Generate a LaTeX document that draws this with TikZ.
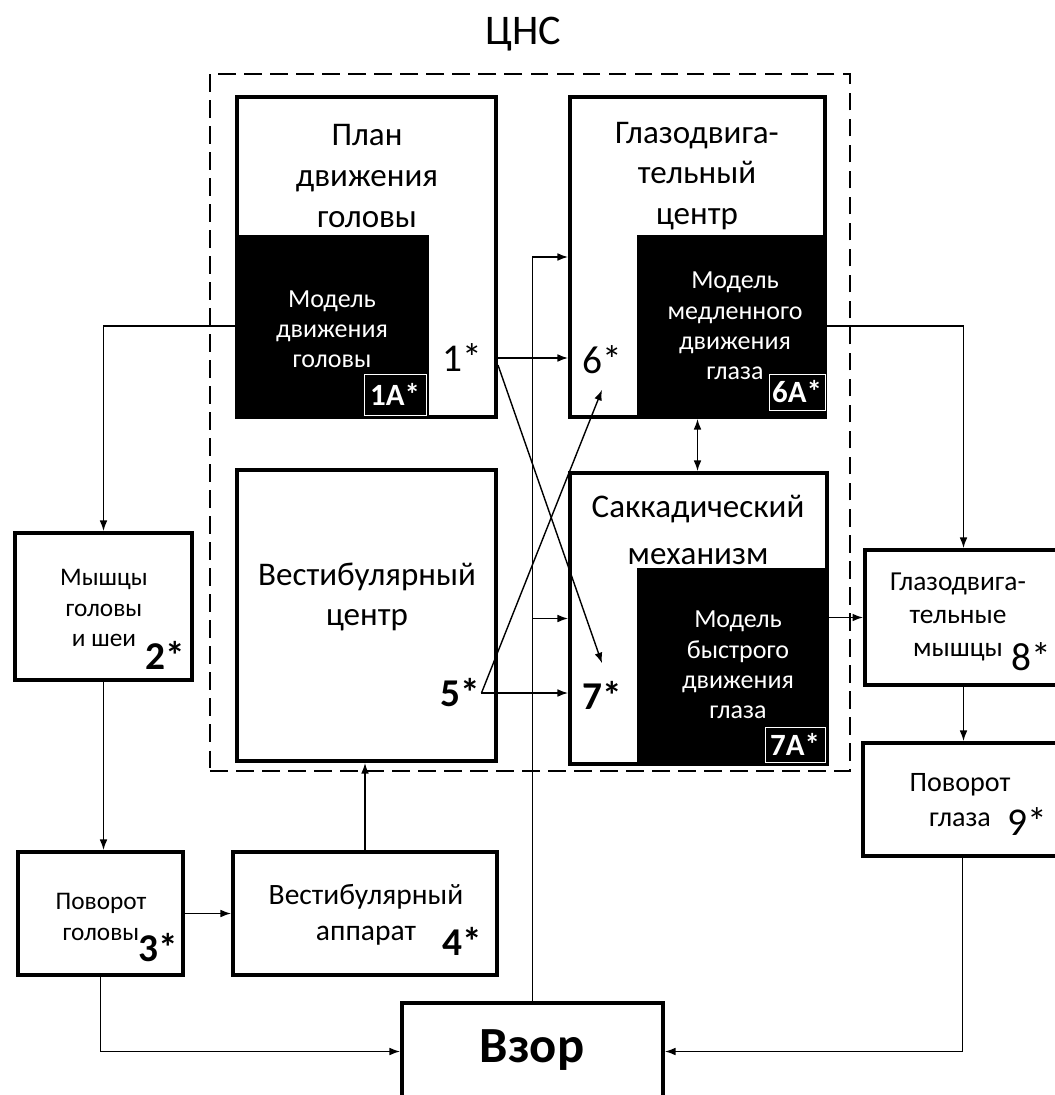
\documentclass[tikz,border=0pt]{standalone}
\usepackage{fontspec}
\setmainfont{Carlito}
\usetikzlibrary{arrows.meta,fit,calc}

\begin{document}
\begin{tikzpicture}[
      x=0.025cm, y=-0.025cm,
      >={Latex[length=7.5pt,width=5.5pt]},
      box/.style={draw, line width=2.8pt, inner sep=0pt},
      blk/.style={fill=black, inner sep=0pt},
      tag/.style={draw=white, line width=0.7pt, fill=black, inner sep=0pt},
      ttl/.style={align=center, inner sep=0pt, font=\fontsize{23.5}{29}\selectfont},
      wtxt/.style={align=center, inner sep=0pt, text=white, font=\fontsize{18.5}{21.5}\selectfont},
      ttxt/.style={inner sep=0pt, text=white, font=\bfseries\fontsize{22}{22}\selectfont},
      txt/.style={align=center, inner sep=0pt, font=\fontsize{18}{21.5}\selectfont},
      num/.style={inner sep=1pt, font=\fontsize{28}{28}\selectfont},
      bnum/.style={inner sep=1pt, font=\bfseries\fontsize{28}{28}\selectfont},
      arr/.style={->, line width=1pt},
      cns/.style={draw, dash pattern=on 12.5pt off 6pt, line width=1.4pt, inner sep=0pt},
    ]
    \useasboundingbox (0,0) rectangle (1054,1095);

    % central nervous system frame
    \node[cns, fit={(210,74) (850,771)}] (cnsbox) {};
    \node[inner sep=0pt, font=\fontsize{30}{30}\selectfont] (cnstitle) at (523,34) {ЦНС};

    % head movement plan
    \node[box, fit={(237,97) (496,417)}] (plan) {};
    \node[ttl] (plantxt) at (367,176) {План\\движения\\головы};
    \node[blk, fit={(237,235) (429,417)}] (planmod) {};
    \node[wtxt] (planmodtxt) at (332,329) {Модель\\движения\\головы};
    \node[tag, fit={(364,374) (426,415)}] (t1a) {};
    \node[ttxt] at (t1a) {1А*};
    \node[num] (n1) at (462,358) {1*};

    % oculomotor centre
    \node[box, fit={(570,97) (825,417)}] (glaz) {};
    \node[ttl] (glaztxt) at (697,176) {Глазодвига-\\тельный\\центр};
    \node[blk, fit={(637,235) (825,417)}] (glazmod) {};
    \node[wtxt] (glazmodtxt) at (735,326) {Модель\\медленного\\движения\\глаза};
    \node[tag, fit={(769,374) (825,410)}] (t6a) {};
    \node[ttxt] at (t6a) {6А*};
    \node[num] (n6) at (602,360) {6*};

    % saccadic mechanism
    \node[box, fit={(570,473) (827,764)}] (sac) {};
    \node[ttl, font=\fontsize{23.5}{33}\selectfont] (sactxt) at (698,530) {Саккадический\\механизм};
    \node[blk, fit={(637,568) (827,764)}] (sacmod) {};
    \node[wtxt] (sacmodtxt) at (738,665) {Модель\\быстрого\\движения\\глаза};
    \node[tag, fit={(765,727) (825,762)}] (t7a) {};
    \node[ttxt] at (t7a) {7А*};
    \node[bnum] (n7) at (602,695) {7*};

    % vestibular centre
    \node[box, fit={(237,470) (496,761)}] (vest) {};
    \node[ttl] (vesttxt) at (367,597) {Вестибулярный\\центр};
    \node[bnum] (n5) at (460,693) {5*};

    % periphery
    \node[box, fit={(15,533) (192,680)}] (mus) {};
    \node[txt] (mustxt) at (104,608) {Мышцы\\головы\\и шеи};
    \node[bnum] (n2) at (165,655) {2*};
    \node[box, fit={(18,852) (183,975)}] (headrot) {};
    \node[txt] (headrottxt) at (101,917) {Поворот\\головы};
    \node[bnum] (n3) at (158,948) {3*};
    \node[box, fit={(233,852) (497,975)}] (vestapp) {};
    \node[txt, font=\fontsize{21}{25.5}\selectfont] (vestapptxt) at (366,915) {Вестибулярный\\аппарат};
    \node[bnum] (n4) at (462,941) {4*};
    \node[box, fit={(865,550) (1062,685)}] (eyemus) {};
    \node[txt, font=\fontsize{19.5}{23.5}\selectfont] (eyemustxt) at (958,617) {Глазодвига-\\тельные\\мышцы};
    \node[num] (n8) at (1031,657) {8*};
    \node[box, fit={(863,743) (1062,856)}] (eyerot) {};
    \node[txt, font=\fontsize{20}{25}\selectfont] (eyerottxt) at (960,800) {Поворот\\глаза};
    \node[num] (n9) at (1027,822) {9*};
    \node[box, fit={(402,1003) (663,1100)}] (gaze) {};
    \node[inner sep=0pt, font=\bfseries\fontsize{36}{36}\selectfont] (gazetxt) at (532,1050) {Взор};

    % connections
    \draw[arr] (planmod.west) -| (mus.north);
    \draw[arr] (mus.south) -- (mus.south |- headrot.north);
    \draw[arr] (headrot.east) -- (vestapp.west);
    \draw[arr] (vestapp.north) -- (vestapp.north |- vest.south);
    \draw[arr] (headrot.south) |- (gaze.west);
    \draw[arr] (eyerot.south) |- (gaze.east);
    \draw[arr] (gaze.north) |- (glaz.west);
    \draw[arr] (gaze.north |- sac.west) -- (sac.west);
    \draw[arr] (glazmod.east) -| (eyemus.north);
    \draw[arr] (sacmod.east |- eyemus.west) -- (eyemus.west);
    \draw[arr] (eyemus.south) -- (eyemus.south |- eyerot.north);
    \draw[arr, <->] (glaz.south) -- (glaz.south |- sac.north);
    \draw[arr] (plan.east |- n1) -- (glaz.west |- n1);
    \draw[arr] ($(plan.east |- n1)+(0,7)$) -- ($(n7.north)+(0,-16)$);
    \draw[arr] (n5.east) -- ($(n6.south)+(0,14)$);
    \draw[arr] (n5.east) -- (sac.west |- n5);
  \end{tikzpicture}
\end{document}
